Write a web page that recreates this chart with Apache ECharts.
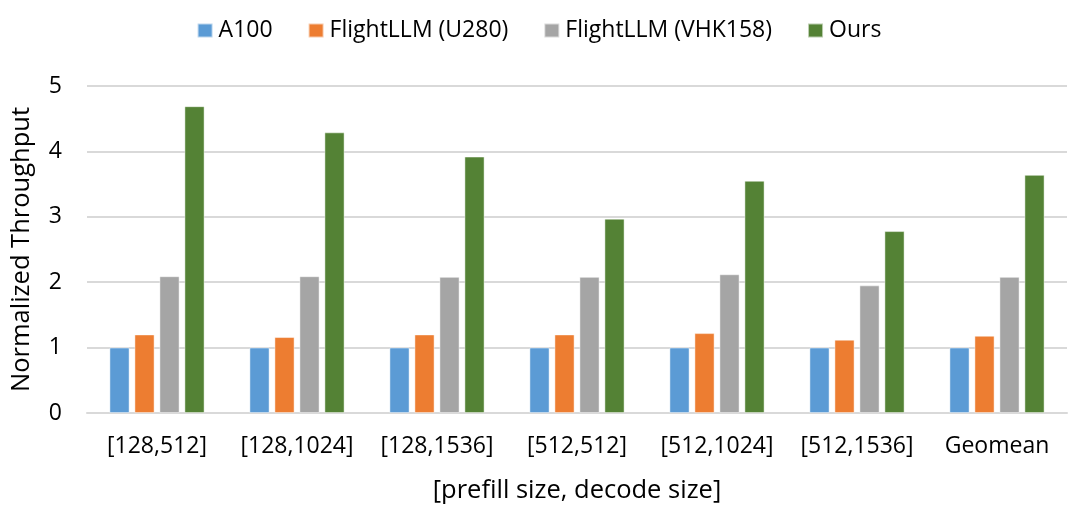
<!DOCTYPE html>
<html><head><meta charset="utf-8">
<script src="https://cdn.jsdelivr.net/npm/echarts@6/dist/echarts.min.js"></script>
<style>html,body{margin:0;padding:0;background:#fff}#c{width:1078px;height:521px}</style>
</head><body><div id="c"></div>
<script>
const categories = ['[128,512]','[128,1024]','[128,1536]','[512,512]','[512,1024]','[512,1536]','Geomean'];
const seriesNames = ['A100','FlightLLM (U280)','FlightLLM (VHK158)','Ours'];
const a100 = [1,1,1,1,1,1,1];
const u280 = [1.2,1.16,1.2,1.2,1.22,1.12,1.18];
const vhk158 = [2.09,2.09,2.08,2.08,2.12,1.95,2.08];
const ours = [4.69,4.29,3.92,2.97,3.55,2.78,3.64];
const yTicks = [0,1,2,3,4,5];
const colors = ['#5B9BD5','#ED7D31','#A5A5A5','#548235'];
const FONT = 'Open Sans';
const chart = echarts.init(document.getElementById('c'));
const data = [a100,u280,vhk158,ours];
chart.setOption({
  animation:false,
  textStyle:{fontFamily:FONT,color:'#000'},
  legend:{top:14,left:'center',itemWidth:15,itemHeight:14,itemGap:35,icon:'rect',
    textStyle:{fontFamily:FONT,fontSize:23,color:'#000',padding:[0,0,0,1]},
    data:seriesNames},
  grid:{left:87,right:11,top:86,bottom:108,containLabel:false},
  xAxis:{type:'category',data:categories,
    axisLine:{lineStyle:{color:'#d9d9d9',width:2}},axisTick:{show:false},
    axisLabel:{fontFamily:FONT,fontSize:23,color:'#000',margin:22,interval:0},
    name:'[prefill size, decode size]',nameLocation:'middle',nameGap:65,
    nameTextStyle:{fontFamily:FONT,fontSize:25.5,color:'#000'}},
  yAxis:{type:'value',min:yTicks[0],max:yTicks[yTicks.length-1],interval:1,
    axisLine:{show:false},axisTick:{show:false},
    splitLine:{lineStyle:{color:'#d9d9d9',width:2}},
    axisLabel:{fontFamily:FONT,fontSize:23,color:'#000',margin:25},
    name:'Normalized Throughput',nameLocation:'middle',nameGap:52,
    nameTextStyle:{fontFamily:FONT,fontSize:25.5,color:'#000'}},
  series: seriesNames.map((n,i)=>({name:n,type:'bar',data:data[i],barWidth:20,barGap:'25%',
    itemStyle:{color:colors[i],borderColor:'rgba(255,255,255,0.6)',borderWidth:0.8}}))
});
</script></body></html>
